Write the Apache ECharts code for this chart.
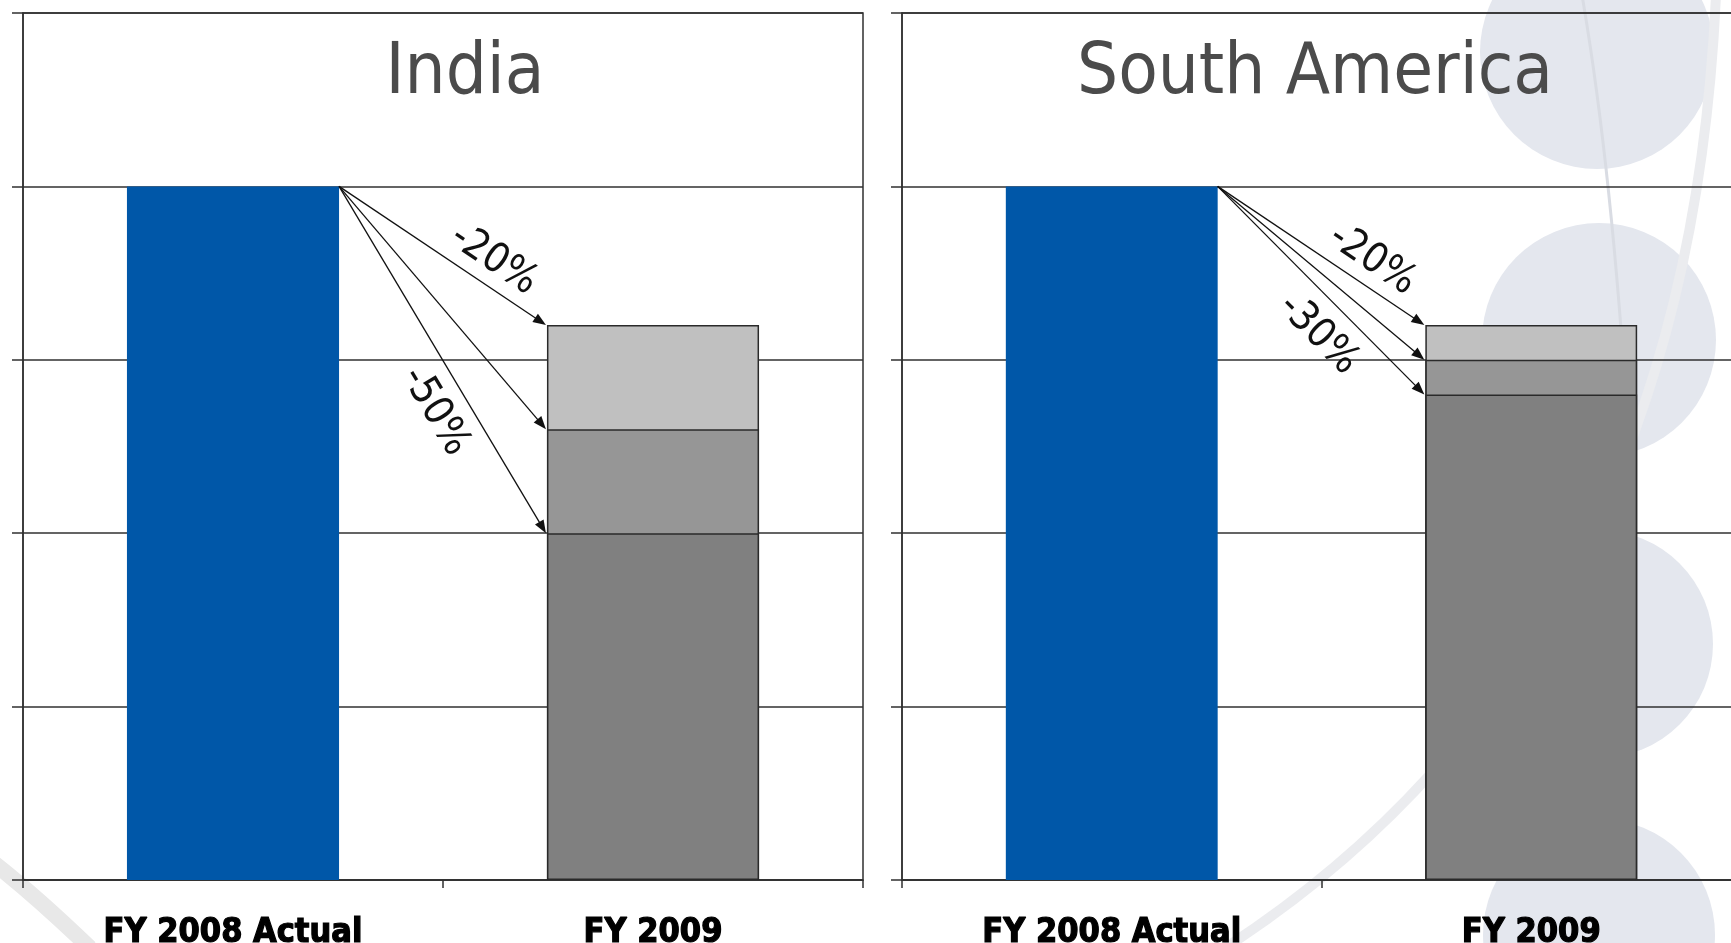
<!DOCTYPE html>
<html>
<head>
<meta charset="utf-8">
<script src="https://cdn.jsdelivr.net/npm/echarts@6/dist/echarts.min.js"></script>
<style>
  html, body { margin: 0; padding: 0; background: #ffffff; }
  #chart { width: 1731px; height: 943px; }
</style>
</head>
<body>
<div id="chart"></div>
<script>
// Categories and values (index units)
const categories = ['FY 2008 Actual', 'FY 2009'];
const panelTitles = ['India', 'South America'];

const indiaActual = 4.0;
const indiaScenarios = [3.2, 2.6, 2.0];
const indiaScenarioLabels = ['-20%', '', '-50%'];

const southAmericaActual = 4.0;
const southAmericaScenarios = [3.2, 3.0, 2.8];
const southAmericaScenarioLabels = ['-20%', '', '-30%'];

// Styling
const BAR_RATIO = 0.505;
const ACTUAL_COLOR = '#0057a8';
const SCENARIO_COLORS = ['#c0c0c0', '#969696', '#808080'];
const LINE_COLOR = '#303030';
const FONT = '"DejaVu Sans Condensed", "DejaVu Sans", sans-serif';

const panels = [
  { title: panelTitles[0], titleX: 465, left: 23, width: 840,
    actual: indiaActual, scenarios: indiaScenarios, labels: indiaScenarioLabels },
  { title: panelTitles[1], titleX: 1315, left: 902, width: 839,
    actual: southAmericaActual, scenarios: southAmericaScenarios, labels: southAmericaScenarioLabels }
];

// Arrows from the top-right corner of the actual bar to each scenario level
function arrowRenderer(fromValue, labels) {
  return function (params, api) {
    const toValue = api.value(1);
    const band = api.size([1, 0])[0];
    const half = band * BAR_RATIO / 2;
    const a = api.coord([0, fromValue]);
    const b = api.coord([1, toValue]);
    const x0 = a[0] + half, y0 = a[1];
    const x1 = b[0] - half - 1, y1 = b[1];
    const dx = x1 - x0, dy = y1 - y0;
    const len = Math.hypot(dx, dy);
    const ux = dx / len, uy = dy / len;
    const nx = uy, ny = -ux;            // normal pointing up-right
    const headLen = 13, headHalf = 5;
    const bx = x1 - ux * headLen, by = y1 - uy * headLen;
    const children = [
      { type: 'line', shape: { x1: x0, y1: y0, x2: x1 - ux * 10, y2: y1 - uy * 10 },
        style: { stroke: '#111', lineWidth: 1.3 } },
      { type: 'polygon',
        shape: { points: [[x1, y1], [bx + nx * headHalf, by + ny * headHalf], [bx - nx * headHalf, by - ny * headHalf]] },
        style: { fill: '#111' } }
    ];
    const text = labels[params.dataIndex];
    if (text) {
      const above = params.dataIndex === 0;
      const t = above ? 0.68 : 0.60;
      const off = above ? 25 : -33;
      children.push({
        type: 'text',
        x: x0 + dx * t + nx * off,
        y: y0 + dy * t + ny * off,
        rotation: -Math.atan2(dy, dx),
        style: { text: text, font: '41px ' + FONT, fill: '#111', align: 'center', verticalAlign: 'middle' }
      });
    }
    return { type: 'group', children: children };
  };
}

const grids = [], xAxes = [], yAxes = [], series = [];
panels.forEach(function (p, i) {
  grids.push({ left: p.left, top: 13, width: p.width, height: 867, show: true,
    borderColor: LINE_COLOR, borderWidth: 1.5, backgroundColor: 'transparent',
    outerBoundsMode: 'none', containLabel: false });
  xAxes.push({ type: 'category', gridIndex: i, data: categories, boundaryGap: true,
    axisLine: { show: true, lineStyle: { color: LINE_COLOR, width: 1.5 } },
    axisTick: { show: true, length: 8, lineStyle: { color: LINE_COLOR, width: 1.5 } },
    axisLabel: { margin: 36, color: '#000', fontFamily: FONT, fontWeight: 'bold', fontSize: 34,
      textBorderColor: '#000', textBorderWidth: 1.2 },
    splitLine: { show: false } });
  yAxes.push({ type: 'value', gridIndex: i, min: 0, max: 5, interval: 1,
    axisLine: { show: true, lineStyle: { color: LINE_COLOR, width: 1.5 } },
    axisTick: { show: true, length: 11, lineStyle: { color: LINE_COLOR, width: 1.5 } },
    axisLabel: { show: false },
    splitLine: { show: true, lineStyle: { color: LINE_COLOR, width: 1.5 } } });

  series.push({ type: 'bar', xAxisIndex: i, yAxisIndex: i, barWidth: (BAR_RATIO * 100) + '%', barGap: '-100%',
    data: [p.actual, '-'], itemStyle: { color: ACTUAL_COLOR }, silent: true });
  p.scenarios.forEach(function (v, k) {
    series.push({ type: 'bar', xAxisIndex: i, yAxisIndex: i, barWidth: (BAR_RATIO * 100) + '%', barGap: '-100%',
      data: ['-', v], itemStyle: { color: SCENARIO_COLORS[k], borderColor: '#2a2a2a', borderWidth: 1.5 }, silent: true });
  });
  series.push({ type: 'custom', xAxisIndex: i, yAxisIndex: i, z: 5, silent: true,
    renderItem: arrowRenderer(p.actual, p.labels),
    data: p.scenarios.map(function (v) { return [1, v]; }) });
});

// Backdrop: soft circles down the right edge, faint sweeping strokes, panel titles
const backdrop = [
  [1597, 52, 117], [1599, 340, 117], [1599, 644, 114], [1599, 935, 116]
].map(function (c) {
  return { type: 'circle', shape: { cx: c[0], cy: c[1], r: c[2] }, style: { fill: '#e4e7ee' }, z: -10, silent: true };
});
backdrop.push(
  { type: 'bezierCurve', z: -9, silent: true,
    shape: { x1: 1225, y1: 948, x2: 1716, y2: -5, cpx1: 1687, cpy1: 648 },
    style: { stroke: '#ebecef', lineWidth: 10, fill: null } },
  { type: 'bezierCurve', z: -9, silent: true,
    shape: { x1: 1582, y1: -5, x2: 1628, y2: 430, cpx1: 1612, cpy1: 170 },
    style: { stroke: '#d9dce3', lineWidth: 3, fill: null } },
  { type: 'bezierCurve', z: -9, silent: true,
    shape: { x1: -10, y1: 860, x2: 90, y2: 948, cpx1: 35, cpy1: 895 },
    style: { stroke: '#e8e8e8', lineWidth: 16, fill: null } }
);
const titles = panels.map(function (p) {
  return { type: 'text', x: p.titleX, y: 74, z: 10, silent: true,
    style: { text: p.title, font: '72px ' + FONT, fill: '#4b4b4b', align: 'center', verticalAlign: 'middle' } };
});

const chart = echarts.init(document.getElementById('chart'), null, { renderer: 'canvas' });
chart.setOption({
  backgroundColor: '#ffffff',
  animation: false,
  grid: grids,
  xAxis: xAxes,
  yAxis: yAxes,
  series: series,
  graphic: backdrop.concat(titles)
});
</script>
</body>
</html>
